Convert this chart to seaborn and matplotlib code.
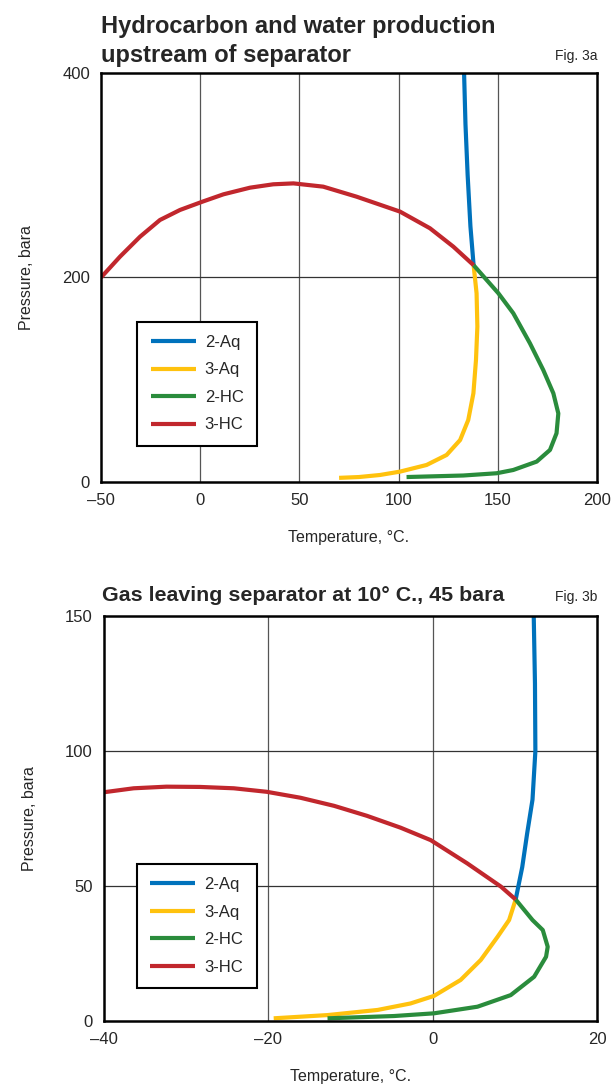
import numpy as np
import pandas as pd
import matplotlib
matplotlib.use("Agg")
import matplotlib.pyplot as plt
import seaborn as sns

# ---------------- Data: Fig. 3a (upstream of separator) ----------------
a_2aq_T = [133.0, 133.7, 134.8, 136.2, 137.8]
a_2aq_P = [400, 350, 300, 250, 212]

a_3aq_T = [137.8, 139.3, 139.7, 139.0, 137.7, 135.1, 131.0, 124.2, 114.1, 100.7, 90.6, 80.0, 70.0]
a_3aq_P = [212, 184.5, 151.9, 119.3, 86.7, 60.6, 41.0, 26.4, 16.6, 10.1, 6.8, 4.8, 4.0]

a_2hc_T = [137.8, 150.3, 157.8, 166.2, 172.9, 178.0, 180.5, 179.6, 176.3, 169.6, 157.8, 149.4, 132.6, 104.0]
a_2hc_P = [212, 184.5, 165, 135.6, 109.5, 86.7, 67, 47.6, 31.3, 19.9, 11.7, 8.5, 6.3, 4.8]

a_3hc_T = [-50, -40.4, -30.3, -20.3, -10.2, 1.1, 11.7, 25.1, 36.8, 47.0, 62.0, 78.8, 100.7, 115.8, 127.6, 137.8]
a_3hc_P = [200, 220.4, 239.9, 256.2, 266.0, 274.1, 281.3, 287.8, 291.1, 292.0, 288.8, 279.0, 264.4, 248.1, 230.1, 212]

# ---------------- Data: Fig. 3b (gas leaving separator) ----------------
b_2aq_T = [12.3, 12.45, 12.5, 12.15, 11.5, 10.9, 10.1]
b_2aq_P = [150, 125, 100, 82, 69.5, 57, 45]

b_3aq_T = [10.1, 9.3, 7.9, 5.85, 3.4, 0.16, -2.7, -6.7, -12.8, -19.35]
b_3aq_P = [45, 37.4, 31.2, 22.6, 15.2, 9.3, 6.5, 4.1, 2.2, 1.0]

b_2hc_T = [10.1, 12.15, 13.4, 14.0, 13.8, 12.35, 9.5, 5.45, 0.16, -4.7, -12.8]
b_2hc_P = [45, 37.4, 33.7, 27.5, 23.8, 16.4, 9.6, 5.3, 2.85, 1.85, 1.0]

b_3hc_T = [-40.1, -36.4, -32.4, -28.3, -24.2, -20.2, -16.1, -12.0, -8.0, -3.9, -0.24, 4.2, 8.3, 10.1]
b_3hc_P = [84.7, 86.2, 86.8, 86.7, 86.2, 84.9, 82.7, 79.7, 76.0, 71.6, 67.0, 58.4, 49.8, 45.0]

series_names = ["2-Aq", "3-Aq", "2-HC", "3-HC"]
palette = {"2-Aq": "#0072BC", "3-Aq": "#FFC20E", "2-HC": "#2A8C3C", "3-HC": "#C1272D"}


def build(groups):
    frames = []
    for name, (T, P) in zip(series_names, groups):
        frames.append(pd.DataFrame({"T": T, "P": P, "series": name}))
    return pd.concat(frames, ignore_index=True)


df_a = build([(a_2aq_T, a_2aq_P), (a_3aq_T, a_3aq_P), (a_2hc_T, a_2hc_P), (a_3hc_T, a_3hc_P)])
df_b = build([(b_2aq_T, b_2aq_P), (b_3aq_T, b_3aq_P), (b_2hc_T, b_2hc_P), (b_3hc_T, b_3hc_P)])

sns.set_theme(style="white")
plt.rcParams["font.family"] = ["Liberation Sans", "DejaVu Sans"]

fig = plt.figure(figsize=(6.13, 10.84), dpi=100)
ax1 = fig.add_axes([0.1648, 0.5554, 0.8091, 0.3773])
ax2 = fig.add_axes([0.1697, 0.0581, 0.8042, 0.3736])


def style_axes(ax, df, xlim, ylim, xticks, yticks, xgrid, ygrid, leg_anchor):
    sns.lineplot(data=df, x="T", y="P", hue="series", hue_order=series_names,
                 palette=palette, sort=False, estimator=None,
                 linewidth=3.0, ax=ax, legend=True)
    for ln in ax.get_lines():
        ln.set_solid_joinstyle("round")
        ln.set_solid_capstyle("butt")
    ax.set_xlim(*xlim)
    ax.set_ylim(*ylim)
    ax.set_xticks(xticks)
    ax.set_yticks(yticks)
    ax.set_xticklabels([str(t).replace("-", "\u2013") for t in xticks], fontsize=12)
    ax.set_yticklabels([str(t) for t in yticks], fontsize=12)
    for g in xgrid:
        ax.axvline(g, color="#555555", lw=0.9, zorder=0)
    for g in ygrid:
        ax.axhline(g, color="#333333", lw=0.9, zorder=0)
    for s in ax.spines.values():
        s.set_color("black")
        s.set_linewidth(1.8)
    ax.tick_params(direction="out", length=5, width=1.6, color="black", pad=3)
    ax.set_xlabel("Temperature, \u00b0C.", fontsize=11.5, labelpad=16)
    ax.set_ylabel("Pressure, bara", fontsize=11.5, labelpad=20)
    handles, labels = ax.get_legend_handles_labels()
    leg = ax.legend(handles, labels, loc="upper left", bbox_to_anchor=leg_anchor,
                    fontsize=12, frameon=True, fancybox=False, edgecolor="black",
                    framealpha=1, handlelength=2.7, handletextpad=0.55,
                    labelspacing=0.75, borderpad=0.8, borderaxespad=0)
    leg.get_frame().set_linewidth(1.5)
    for line in leg.get_lines():
        line.set_linewidth(3.0)


style_axes(ax1, df_a, (-50, 200), (0, 400), [-50, 0, 50, 100, 150, 200], [0, 200, 400],
           [0, 50, 100, 150], [200], (0.073, 0.392))
style_axes(ax2, df_b, (-40, 20), (0, 150), [-40, -20, 0, 20], [0, 50, 100, 150],
           [-20, 0], [50, 100], (0.067, 0.388))

fig.text(0.1648, 0.9696, "Hydrocarbon and water production",
         fontsize=17, fontweight="bold", ha="left", va="baseline")
fig.text(0.1648, 0.9428, "upstream of separator",
         fontsize=17, fontweight="bold", ha="left", va="baseline")
fig.text(0.975, 0.9445, "Fig. 3a", fontsize=10, ha="right", va="baseline")
fig.text(0.1665, 0.4458, "Gas leaving separator at 10\u00b0 C., 45 bara",
         fontsize=15.4, fontweight="bold", ha="left", va="baseline")
fig.text(0.975, 0.4458, "Fig. 3b", fontsize=10, ha="right", va="baseline")

fig.savefig("out.png", dpi=100)
